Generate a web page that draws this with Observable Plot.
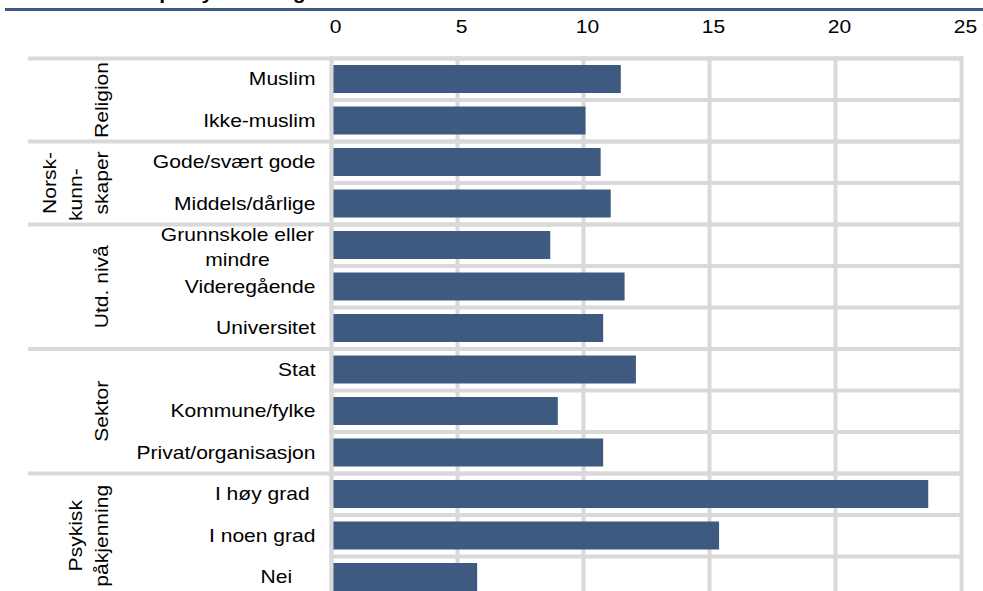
<!DOCTYPE html>
<html>
<head>
<meta charset="utf-8">
<script src="https://cdn.jsdelivr.net/npm/d3@7"></script>
<script src="https://cdn.jsdelivr.net/npm/@observablehq/plot@0.6"></script>
<style>
html, body { margin: 0; padding: 0; background: #fff; overflow: hidden; }
#wrap { position: relative; width: 983px; height: 591px; overflow: hidden; }
#title { position: absolute; left: 95px; top: -16px; font: bold 18px/18px "Liberation Sans", Arial, sans-serif; color: #000; white-space: nowrap; z-index: 2; transform: scaleX(1.17); transform-origin: 0 0; }
#topline { position: absolute; left: 5px; right: 0; top: 8px; height: 3px; background: #3f5a81; z-index: 2; }
svg { overflow: hidden; }
svg text, svg tspan { white-space: pre; }
</style>
</head>
<body>
<div id="wrap">
  <div id="title">Andel på sykmelding</div>
  <div id="topline"></div>
  <div id="chart"></div>
</div>
<script>
// ---- data ----
const groupNames = ["Religion", "Norsk-\nkunn-    \nskaper", "Utd. nivå", "Sektor", "Psykisk\npåkjenning"];
const categories = ["Muslim", "Ikke-muslim", "Gode/svært gode", "Middels/dårlige",
  "Grunnskole eller\nmindre", "Videregående", "Universitet",
  "Stat", "Kommune/fylke", "Privat/organisasjon",
  "I høy grad ", "I noen grad", "Nei    "];
const groupOf = [0, 0, 1, 1, 2, 2, 2, 3, 3, 3, 4, 4, 4];
const values = [11.5, 10.1, 10.7, 11.1, 8.7, 11.65, 10.8, 12.1, 9.0, 10.8, 23.7, 15.4, 5.8];
const ticks = [0, 5, 10, 15, 20, 25];

// ---- derived tables ----
const rows = categories.map((label, i) => ({i, label, value: values[i], group: groupOf[i]}));
const groups = groupNames.map((name, g) => {
  const idx = rows.filter(d => d.group === g).map(d => d.i);
  return {name, center: d3.mean(idx), start: d3.min(idx)};
});
const grid = "#d9d9d9";
const barColor = "#3f5a81";

const chart = Plot.plot({
  width: 983,
  height: 591,
  marginLeft: 30,
  marginRight: 22,
  marginTop: 58,
  marginBottom: 0,
  style: {fontFamily: '"Liberation Sans", Arial, sans-serif', fontSize: "18px", color: "#000", background: "transparent"},
  x: {domain: [ticks[0], ticks[ticks.length - 1]], range: [331, 961], axis: null},
  y: {domain: [-0.5, categories.length - 0.5], range: [58, 597.5], axis: null},
  marks: [
    // category labels (single line)
    Plot.text(rows.filter(d => !d.label.includes("\n")), {
      x: d => 0, y: "i", text: "label", textAnchor: "end", dx: -16, fill: "#000", fontSize: 18
    }),
    // category labels (wrapped)
    Plot.text(rows.filter(d => d.label.includes("\n")), {
      x: d => 0, y: "i", text: "label", textAnchor: "middle", dx: -94, lineHeight: 1.44, fill: "#000", fontSize: 18
    }),
    // group labels
    Plot.text(groups, {
      x: d => 0, y: "center", text: "name", rotate: -90, textAnchor: "middle",
      lineAnchor: "bottom", lineHeight: 1.44, dx: -223.5, fill: "#000", fontSize: 18
    }),
    // tick labels on top
    Plot.text(ticks, {
      x: d => d, frameAnchor: "top", lineAnchor: "middle", dy: -31, dx: 4, text: d => String(d), textAnchor: "middle", fill: "#000", fontSize: 18
    }),
    // vertical gridlines
    Plot.ruleX(ticks, {x: d => d, stroke: grid, strokeWidth: 4, strokeLinecap: "square"}),
    // separators between rows (plot area)
    Plot.ruleY(rows, {y: d => d.i - 0.5, x1: d => ticks[0], x2: d => ticks[ticks.length - 1], stroke: grid, strokeWidth: 4, strokeLinecap: "square"}),
    // group separators (extend into the label area)
    Plot.ruleY(groups, {y: d => d.start - 0.5, stroke: grid, strokeWidth: 4, strokeLinecap: "square"}),
    // bars
    Plot.rectX(rows, {x1: d => 0, x2: "value", y1: d => d.i - 0.5, y2: d => d.i + 0.5, insetTop: 7, insetBottom: 6.5, fill: barColor}),
    // zero line over bars
    Plot.ruleX([0], {stroke: grid, strokeWidth: 4})
  ]
});

// widen the text glyphs slightly along the writing direction, as in the original
d3.select(chart).selectAll("text").each(function () {
  const el = this;
  let t = el.getAttribute("transform") || "";
  const xs = el.getAttribute("x"), ys = el.getAttribute("y");
  const num = s => s != null && /^-?[\d.]+(e-?\d+)?$/.test(s);
  if (num(xs) || num(ys)) {
    const x = num(xs) ? +xs : 0, y = num(ys) ? +ys : 0;
    if (num(xs)) el.removeAttribute("x");
    if (num(ys)) el.removeAttribute("y");
    t += ` translate(${x},${y})`;
  }
  el.setAttribute("transform", (t + " scale(1.17,1)").trim());
});

document.getElementById("chart").appendChild(chart);
</script>
</body>
</html>
